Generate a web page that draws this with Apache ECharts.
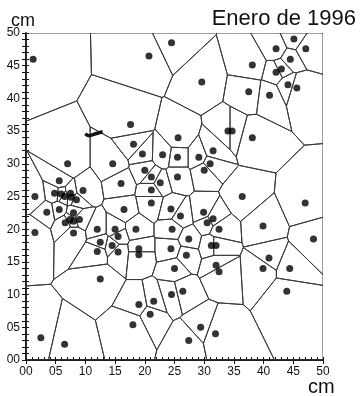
<!DOCTYPE html>
<html>
<head>
<meta charset="utf-8">
<script src="https://cdn.jsdelivr.net/npm/echarts@6/dist/echarts.min.js"></script>
<style>
  html, body { margin: 0; padding: 0; background: #fff; }
  #chart { width: 361px; height: 396px; }
</style>
</head>
<body>
<div id="chart"></div>
<script>
// Sampling sites (cm)
const siteX = [
  1.2, 20.7, 24.5, 17.6, 29.6, 38.1, 45.1, 42.1, 47.1, 44.5,
  43.0, 42.1, 37.5, 41.0, 44.1, 45.6, 34.0, 34.7, 38.1, 25.6,
  18.1, 19.6, 23.0, 7.0, 14.6, 20.0, 21.1, 22.6, 16.0, 5.6,
  21.1, 9.6, 1.5, 4.8, 5.9, 6.5, 7.5, 7.6, 8.5, 21.1,
  3.5, 5.6, 8.0, 16.5, 6.6, 7.4, 8.0, 9.0, 8.0, 1.5,
  12.0, 15.0, 15.5, 18.5, 24.4, 24.6, 12.5, 14.5, 19.0, 12.0,
  15.5, 19.0, 24.4, 25.5, 29.1, 31.5, 31.0, 30.0, 25.5, 36.4,
  47.0, 26.0, 29.9, 30.5, 31.5, 32.5, 39.9, 48.4, 27.4, 31.2,
  32.0, 27.0, 40.9, 25.0, 32.0, 32.5, 39.9, 44.4, 43.9, 26.4,
  24.5, 29.4, 31.9, 27.4, 12.5, 19.0, 21.5, 20.9, 18.0, 2.5,
  6.5
];
const siteY = [
  46.0, 46.5, 48.5, 36.0, 42.5, 45.1, 49.1, 47.6, 47.6, 46.0,
  44.5, 44.0, 41.0, 40.5, 42.1, 41.6, 35.0, 35.0, 34.0, 34.0,
  33.0, 31.5, 31.4, 30.0, 30.0, 29.0, 28.0, 27.1, 27.0, 27.4,
  26.0, 25.9, 25.0, 25.5, 25.4, 25.0, 25.5, 24.9, 24.5, 24.0,
  22.6, 23.0, 22.5, 23.0, 21.0, 21.5, 21.2, 21.5, 19.4, 19.5,
  20.0, 20.0, 18.9, 20.0, 23.1, 20.0, 18.0, 17.5, 17.0, 16.6,
  16.5, 16.1, 17.0, 31.0, 31.0, 32.0, 30.0, 29.0, 28.0, 25.0,
  24.0, 22.0, 22.6, 21.0, 21.6, 20.0, 20.5, 18.5, 18.5, 17.5,
  17.5, 16.0, 15.6, 14.0, 14.5, 13.5, 14.0, 14.0, 10.5, 10.5,
  10.0, 5.0, 4.0, 3.0, 12.4, 8.5, 9.0, 7.0, 5.4, 3.4,
  2.4
];

// Pen stroke near the upper left
const strokeX = [10.0, 10.6, 11.7, 12.9];
const strokeY = [34.6, 34.3, 34.6, 34.9];

const tickLabels = ['00', '05', '10', '15', '20', '25', '30', '35', '40', '45', '50'];
const AX_MIN = 0, AX_MAX = 50;

const sites = siteX.map((x, i) => [x, siteY[i]]);

// Voronoi cells: clip the plot square by each perpendicular bisector
function clipHalf(poly, a, b, c) {
  const out = [];
  const inside = p => a * p[0] + b * p[1] <= c + 1e-9;
  for (let i = 0; i < poly.length; i++) {
    const cur = poly[i], prev = poly[(i + poly.length - 1) % poly.length];
    const ci = inside(cur), pi = inside(prev);
    if (ci !== pi) {
      const fp = a * prev[0] + b * prev[1] - c;
      const fc = a * cur[0] + b * cur[1] - c;
      const t = fp / (fp - fc);
      out.push([prev[0] + t * (cur[0] - prev[0]), prev[1] + t * (cur[1] - prev[1])]);
    }
    if (ci) out.push(cur);
  }
  return out;
}
const cells = sites.map((p, i) => {
  let poly = [[AX_MIN, AX_MIN], [AX_MAX, AX_MIN], [AX_MAX, AX_MAX], [AX_MIN, AX_MAX]];
  sites.forEach((q, j) => {
    if (j === i || poly.length === 0) return;
    const a = 2 * (q[0] - p[0]), b = 2 * (q[1] - p[1]);
    const c = q[0] * q[0] + q[1] * q[1] - p[0] * p[0] - p[1] * p[1];
    poly = clipHalf(poly, a, b, c);
  });
  return poly;
});

const labelFmt = v => tickLabels[Math.round(v / 5)] || '';
const FONT = '"Liberation Sans", Arial, sans-serif';
const black = '#111';

const chart = echarts.init(document.getElementById('chart'), null, { renderer: 'canvas' });
chart.setOption({
  animation: false,
  backgroundColor: '#fff',
  title: [
    { text: 'Enero de 1996', right: 5, top: 8, padding: 0,
      textStyle: { fontFamily: FONT, fontSize: 22, fontWeight: 'normal', color: black } },
    { text: 'cm', left: 11, top: 12, padding: 0,
      textStyle: { fontFamily: FONT, fontSize: 18, fontWeight: 'normal', color: black } },
    { text: 'cm', left: 308, top: 377, padding: 0,
      textStyle: { fontFamily: FONT, fontSize: 20, fontWeight: 'normal', color: black } }
  ],
  grid: { left: 26, right: 38, top: 33, bottom: 36, containLabel: false },
  xAxis: [
    { type: 'value', min: AX_MIN, max: AX_MAX, interval: 5, position: 'bottom',
      axisLine: { show: true, lineStyle: { color: black, width: 1.5 } },
      axisTick: { show: true, inside: false, length: 4, lineStyle: { color: black } },
      axisLabel: { formatter: labelFmt, fontFamily: FONT, fontSize: 12, color: black, margin: 6 },
      splitLine: { show: false } },
    { type: 'value', min: AX_MIN, max: AX_MAX, interval: 1, position: 'bottom',
      axisLine: { show: false },
      axisTick: { show: true, inside: true, length: 3, lineStyle: { color: black } },
      axisLabel: { show: false }, splitLine: { show: false } },
    { type: 'value', min: AX_MIN, max: AX_MAX, interval: 5, position: 'top',
      axisLine: { show: true, lineStyle: { color: black, width: 1.5 } },
      axisTick: { show: false }, axisLabel: { show: false }, splitLine: { show: false } }
  ],
  yAxis: [
    { type: 'value', min: AX_MIN, max: AX_MAX, interval: 5, position: 'left',
      axisLine: { show: true, lineStyle: { color: black, width: 1.5 } },
      axisTick: { show: true, inside: false, length: 4, lineStyle: { color: black } },
      axisLabel: { formatter: labelFmt, fontFamily: FONT, fontSize: 12, color: black, margin: 6 },
      splitLine: { show: false } },
    { type: 'value', min: AX_MIN, max: AX_MAX, interval: 1, position: 'left',
      axisLine: { show: false },
      axisTick: { show: true, inside: true, length: 3, lineStyle: { color: black } },
      axisLabel: { show: false }, splitLine: { show: false } },
    { type: 'value', min: AX_MIN, max: AX_MAX, interval: 1, position: 'right',
      axisLine: { show: true, lineStyle: { color: black, width: 1.5 } },
      axisTick: { show: true, inside: true, length: 4, lineStyle: { color: black } },
      axisLabel: { show: false }, splitLine: { show: false } }
  ],
  series: [
    {
      type: 'custom', name: 'voronoi', xAxisIndex: 0, yAxisIndex: 0,
      silent: true, clip: true,
      data: sites,
      encode: { x: 0, y: 1 },
      renderItem: function (params, api) {
        const cell = cells[params.dataIndex];
        if (!cell || cell.length < 3) return null;
        return {
          type: 'polygon',
          shape: { points: cell.map(v => api.coord(v)) },
          style: { fill: 'none', stroke: '#3a3a3a', lineWidth: 1 }
        };
      }
    },
    {
      type: 'line', name: 'stroke', xAxisIndex: 0, yAxisIndex: 0,
      data: strokeX.map((x, i) => [x, strokeY[i]]),
      smooth: true, symbol: 'none', silent: true,
      lineStyle: { color: '#111', width: 3.5 }
    },
    {
      type: 'scatter', name: 'sites', xAxisIndex: 0, yAxisIndex: 0,
      data: sites, symbol: 'circle', symbolSize: 7, silent: true,
      itemStyle: { color: '#000' }
    }
  ]
});
</script>
</body>
</html>
